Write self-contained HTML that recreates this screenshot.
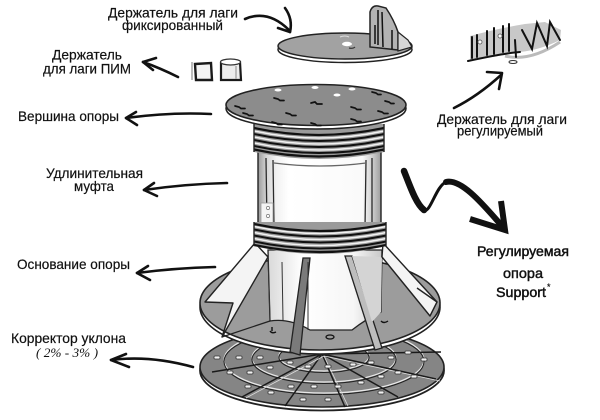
<!DOCTYPE html>
<html><head><meta charset="utf-8"><style>
html,body{margin:0;padding:0;background:#fff;}
svg{display:block;}
text{font-family:"Liberation Sans","DejaVu Sans",sans-serif;font-size:14px;fill:#111;stroke:#111;stroke-width:0.2px;}
.it{font-family:"Liberation Serif",serif;font-style:italic;font-size:13px;stroke-width:0;}
.bd{stroke:#111;stroke-width:0.45px;}
</style></head><body>
<svg width="600" height="420" viewBox="0 0 600 420" xmlns="http://www.w3.org/2000/svg">
<defs>
<linearGradient id="cyl" x1="0" x2="1" y1="0" y2="0">
 <stop offset="0" stop-color="#9a9a9a"/>
 <stop offset="0.07" stop-color="#d6d6d6"/>
 <stop offset="0.15" stop-color="#f2f2f2"/>
 <stop offset="0.25" stop-color="#fff"/>
 <stop offset="0.85" stop-color="#fafafa"/>
 <stop offset="0.93" stop-color="#cfcfcf"/>
 <stop offset="1" stop-color="#9c9c9c"/>
</linearGradient>
<linearGradient id="base" x1="0" x2="1" y1="0" y2="0">
 <stop offset="0" stop-color="#d9d9d9"/>
 <stop offset="0.3" stop-color="#fff"/>
 <stop offset="0.75" stop-color="#f6f6f6"/>
 <stop offset="1" stop-color="#c8c8c8"/>
</linearGradient>
</defs>
<rect width="600" height="420" fill="#fff"/>

<!-- ===== Labels ===== -->
<text x="108" y="17.5" textLength="130" lengthAdjust="spacingAndGlyphs">Держатель для лаги</text>
<text x="122" y="30" textLength="101" lengthAdjust="spacingAndGlyphs">фиксированный</text>
<text x="52" y="59.5" textLength="70" lengthAdjust="spacingAndGlyphs">Держатель</text>
<text x="43" y="73.5" textLength="88" lengthAdjust="spacingAndGlyphs">для лаги ПИМ</text>
<text x="18" y="121" textLength="101" lengthAdjust="spacingAndGlyphs">Вершина опоры</text>
<text x="46" y="178" textLength="97" lengthAdjust="spacingAndGlyphs">Удлинительная</text>
<text x="74" y="191" textLength="40" lengthAdjust="spacingAndGlyphs">муфта</text>
<text x="17" y="269" textLength="113" lengthAdjust="spacingAndGlyphs">Основание опоры</text>
<text x="11" y="343" textLength="115" lengthAdjust="spacingAndGlyphs">Корректор уклона</text>
<text class="it" x="36" y="357" textLength="62" lengthAdjust="spacingAndGlyphs">( 2% - 3% )</text>
<text x="437" y="124" textLength="130" lengthAdjust="spacingAndGlyphs">Держатель для лаги</text>
<text x="457" y="135.5" textLength="86" lengthAdjust="spacingAndGlyphs">регулируемый</text>
<text class="bd" x="477" y="256" textLength="92" lengthAdjust="spacingAndGlyphs">Регулируемая</text>
<text class="bd" x="503" y="278" textLength="40" lengthAdjust="spacingAndGlyphs">опора</text>
<text class="bd" x="496" y="297" textLength="50" lengthAdjust="spacingAndGlyphs">Support</text>
<text x="547" y="290" style="font-size:9px">*</text>

<!-- ===== Arrows ===== -->
<g fill="none" stroke="#111" stroke-width="2.6" stroke-linecap="round" stroke-linejoin="round">
 <path d="M245,19 Q268,9 289,30"/>
 <path d="M285,8 Q293,19 290,32"/>
 <path d="M278,28 L290,32"/>
 <path d="M178,77 Q160,68 143,62"/>
 <path d="M156,58 L143,62 L153,70"/>
 <path d="M211,114 Q170,112 126,118"/>
 <path d="M136,112 L126,118 L137,125"/>
 <path d="M227,183 Q185,184 144,190"/>
 <path d="M154,183 L144,190 L157,196"/>
 <path d="M215,267 Q175,268 137,273"/>
 <path d="M148,266 L137,273 L150,280"/>
 <path d="M193,367 Q150,355 111,360"/>
 <path d="M126,354 L111,360 L129,367"/>
 <path d="M454,108 Q478,96 501,75"/>
 <path d="M487,72 L502,73 L499,89"/>
</g>
<g fill="none" stroke="#111" stroke-linecap="round">
 <path d="M404,171 C410,186 416,204 424,210" stroke-width="6.5"/>
 <path d="M424,210 C430,214 436,186 446,182" stroke-width="3"/>
 <path d="M446,182 C462,178 486,208 502,226" stroke-width="6"/>
 <path d="M470,219 L505,230 L501,201" stroke-width="6" stroke-linejoin="miter" stroke-linecap="butt"/>
</g>

<!-- ===== Fixed joist holder (top) ===== -->
<ellipse cx="345" cy="49.5" rx="67" ry="13" fill="#fff" stroke="#222" stroke-width="1.5"/>
<ellipse cx="345" cy="46" rx="67" ry="13" fill="#a2a2a2" stroke="#222" stroke-width="1.5"/>
<ellipse cx="347" cy="44" rx="5" ry="2.2" fill="#fff"/>
<path d="M340,37 q5,-2 9,0" stroke="#ddd" fill="none"/>
<path d="M349,48 q4,1 6,-1" stroke="#333" fill="none" stroke-width="1.2"/>
<path d="M370,47 L370,12 Q372,5 378,6 L386,8 Q394,20 398,32 L398,50 Z" fill="#b3b3b3" stroke="#222" stroke-width="1.5"/>
<path d="M378,10 L378,45 M382,12 L383,47 M375,25 L375,44 M392,30 L392,49" stroke="#111" stroke-width="1.5" fill="none"/>
<path d="M398,32 L408,40 L412,47 L398,51 Z" fill="#d6d6d6" stroke="#222" stroke-width="1.2"/>

<!-- ===== PIM holder ===== -->
<path d="M195,64 L211,63 L212,80 L196,80 Z" fill="#f3f3f3" stroke="#1a1a1a" stroke-width="2.4"/>
<path d="M192,62 L192,80" stroke="#bbb" stroke-width="2"/>
<path d="M221,63 L240,62 L241,80 L221,80 Z" fill="#ececec" stroke="#1a1a1a" stroke-width="2.2"/>
<ellipse cx="230.5" cy="62" rx="10" ry="3" fill="#fff" stroke="#333" stroke-width="1.2"/>
<path d="M236,66 L236,79" stroke="#aaa" stroke-width="1.5"/>

<!-- ===== Adjustable joist holder (right) ===== -->
<path d="M470,36 Q500,28 525,24 L545,22 L561,30 L560,40 Q540,50 520,52 L505,55 Q485,58 470,60 Z" fill="#c8c8c8"/>
<path d="M505,56 Q530,62 560,42" fill="none" stroke="#bbb" stroke-width="3"/>
<g stroke="#111" stroke-width="2" fill="none" stroke-linecap="round">
 <path d="M472,37 L472,58 M477,35 L477,57 M487,31 L487,55 M494,28 L494,54 M503,26 L503,52 M509,24 L509,51"/>
 <path d="M468,61 Q505,53 520,52"/>
 <path d="M522,30 L532,49 L537,23 L547,46 L550,22 L560,40"/>
 <path d="M515,40 L516,57"/>
</g>
<ellipse cx="513" cy="62" rx="4" ry="1.5" fill="none" stroke="#333" stroke-width="1"/>
<circle cx="480" cy="42" r="2" fill="#fff" stroke="#555" stroke-width="0.8"/>
<circle cx="500" cy="36" r="2" fill="#fff" stroke="#555" stroke-width="0.8"/>

<!-- ===== Slope corrector (bottom disc) ===== -->
<ellipse cx="322" cy="370.5" rx="122" ry="40" fill="#fff" stroke="#222" stroke-width="1.8"/>
<ellipse cx="322" cy="367" rx="122" ry="40" fill="#858585" stroke="#222" stroke-width="1.6"/>
<g fill="none">
 <ellipse cx="324" cy="360" rx="100" ry="33" stroke="#e8e8e8" stroke-width="1.3"/>
 <ellipse cx="324" cy="361.5" rx="100" ry="33" stroke="#222" stroke-width="1.1"/>
 <ellipse cx="324" cy="358" rx="72" ry="24" stroke="#e8e8e8" stroke-width="1.2"/>
 <ellipse cx="324" cy="359.5" rx="72" ry="24" stroke="#222" stroke-width="1.1"/>
 <ellipse cx="324" cy="356" rx="45" ry="15" stroke="#e8e8e8" stroke-width="1.2"/>
 <ellipse cx="324" cy="357.5" rx="45" ry="15" stroke="#222" stroke-width="1.1"/>
 <g stroke="#1a1a1a" stroke-width="1.5">
  <path d="M322,354 L212,372 M322,354 L242,397 M322,354 L285,406 M322,354 L345,407 M322,354 L398,397 M322,354 L436,379 M322,354 L441,352"/>
 </g>
 <g stroke="#ddd" stroke-width="0.8">
  <path d="M324,356 L246,398 M324,356 L348,406 M324,356 L440,381"/>
 </g>
</g>
<g fill="#f2f2f2" stroke="#333" stroke-width="0.8">
 <rect x="214" y="356" width="6" height="3" rx="1"/><rect x="236" y="356" width="6" height="3" rx="1"/>
 <rect x="257" y="356" width="6" height="3" rx="1"/><rect x="227" y="371" width="6" height="3" rx="1"/>
 <rect x="247" y="371" width="6" height="3" rx="1"/><rect x="267" y="366" width="6" height="3" rx="1"/>
 <rect x="287" y="361" width="6" height="3" rx="1"/><rect x="305" y="365" width="6" height="3" rx="1"/>
 <rect x="325" y="365" width="6" height="3" rx="1"/><rect x="350" y="363" width="6" height="3" rx="1"/>
 <rect x="368" y="361" width="6" height="3" rx="1"/><rect x="388" y="356" width="6" height="3" rx="1"/>
 <rect x="405" y="351" width="6" height="3" rx="1"/><rect x="421" y="358" width="6" height="3" rx="1"/>
 <rect x="395" y="371" width="6" height="3" rx="1"/><rect x="378" y="375" width="6" height="3" rx="1"/>
 <rect x="358" y="381" width="6" height="3" rx="1"/><rect x="335" y="385" width="6" height="3" rx="1"/>
 <rect x="311" y="385" width="6" height="3" rx="1"/><rect x="288" y="385" width="6" height="3" rx="1"/>
 <rect x="268" y="391" width="6" height="3" rx="1"/><rect x="325" y="398" width="6" height="3" rx="1"/>
 <rect x="378" y="391" width="6" height="3" rx="1"/><rect x="411" y="375" width="6" height="3" rx="1"/>
 <rect x="245" y="385" width="6" height="3" rx="1"/><rect x="300" y="398" width="6" height="3" rx="1"/>
</g>

<!-- ===== Base disc ===== -->
<ellipse cx="320" cy="307" rx="120" ry="47" fill="#fff" stroke="#222" stroke-width="1.6"/>
<ellipse cx="320" cy="303" rx="120" ry="47" fill="#9c9c9c" stroke="#222" stroke-width="1.6"/>
<path d="M270,331 q2,3 6,1 M272,327 l0,4" stroke="#111" stroke-width="1.4" fill="none"/>
<ellipse cx="330" cy="337" rx="4" ry="2" fill="none" stroke="#111" stroke-width="1.3"/>
<path d="M381,321 q3,3 7,0" stroke="#111" stroke-width="1.4" fill="none"/>

<!-- ===== Base cone ===== -->
<path d="M255,243 L205,302 L233,303 L222,337 L268,257 Z" fill="#f4f4f4" stroke="#222" stroke-width="1.4" stroke-linejoin="round"/>
<path d="M268,250 L382,250 L381,312 Q366,319 352,330 L310,330 Q290,318 270,321 Z" fill="url(#base)" stroke="#222" stroke-width="1.3"/>
<path d="M270,321 L222,337" stroke="#222" stroke-width="1.3"/>
<path d="M303,258 L310,258 L300,355 L290,352 Z" fill="#7a7a7a" stroke="#222" stroke-width="1.3"/>
<path d="M345,256 L352,256 L382,348 L375,350 Z" fill="#bdbdbd" stroke="#222" stroke-width="1.3"/>
<path d="M352,256 L382,257 L381,312 L372,322 Z" fill="#d4d4d4"/>
<path d="M383,243 L437,302 L430,316 L382,257 Z" fill="#f4f4f4" stroke="#222" stroke-width="1.4" stroke-linejoin="round"/>
<path d="M417,288 L437,302" stroke="#222" stroke-width="1.4"/>
<path d="M268,257 L270,320 M308,262 L308,330 M282,262 L283,320" stroke="#333" stroke-width="1" fill="none"/>

<!-- ===== Extension sleeve (cylinder) ===== -->
<path d="M258,148 L381,148 L381,226 Q320,238 258,226 Z" fill="url(#cyl)" stroke="#222" stroke-width="1.4"/>
<g stroke="#2a2a2a" stroke-width="1.3" fill="none">
 <path d="M266,158 L267,226 M273,160 L274,228 M366,160 L365,228 M372,158 L372,226"/>
 <path d="M274,163 Q320,169 366,163" stroke="#666"/>
</g>
<rect x="261" y="203" width="12" height="20" fill="#f4f4f4" stroke="#999" stroke-width="0.8"/>
<circle cx="268" cy="208" r="1.6" fill="#fff" stroke="#777" stroke-width="0.7"/>
<circle cx="268" cy="216" r="1.6" fill="#fff" stroke="#777" stroke-width="0.7"/>

<!-- ===== Lower thread ===== -->
<path d="M254,222 L386,222 L386,246 Q320,262 254,246 Z" fill="#9a9a9a"/>
<g fill="none">
 <path d="M254,224 Q320,238 386,224" stroke="#111" stroke-width="2.2"/>
 <path d="M254,226.5 Q320,240.5 386,226.5" stroke="#f2f2f2" stroke-width="1.5"/>
 <path d="M254,229.5 Q320,243.5 386,229.5" stroke="#111" stroke-width="2"/>
 <path d="M254,232.5 Q320,246.5 386,232.5" stroke="#f2f2f2" stroke-width="1.5"/>
 <path d="M254,235.5 Q320,249.5 386,235.5" stroke="#111" stroke-width="2"/>
 <path d="M254,238.5 Q320,252.5 386,238.5" stroke="#f2f2f2" stroke-width="1.5"/>
 <path d="M254,241.5 Q320,255.5 386,241.5" stroke="#111" stroke-width="2"/>
 <path d="M254,245 Q320,259 386,245" stroke="#111" stroke-width="2.2"/>
 <path d="M254,222 L254,246 M386,222 L386,246" stroke="#222" stroke-width="1.4"/>
</g>

<!-- ===== Upper thread ===== -->
<path d="M254,124 L384,124 L384,152 Q319,166 254,152 Z" fill="#9a9a9a"/>
<g fill="none">
 <path d="M254,128 Q319,142 384,128" stroke="#111" stroke-width="2.2"/>
 <path d="M254,131 Q319,145 384,131" stroke="#f2f2f2" stroke-width="1.5"/>
 <path d="M254,134 Q319,148 384,134" stroke="#111" stroke-width="2"/>
 <path d="M254,137 Q319,151 384,137" stroke="#f2f2f2" stroke-width="1.5"/>
 <path d="M254,140 Q319,154 384,140" stroke="#111" stroke-width="2"/>
 <path d="M254,143 Q319,157 384,143" stroke="#f2f2f2" stroke-width="1.5"/>
 <path d="M254,146 Q319,160 384,146" stroke="#111" stroke-width="2"/>
 <path d="M254,149.5 Q319,163.5 384,149.5" stroke="#111" stroke-width="2.2"/>
 <path d="M254,124 L254,152 M384,124 L384,152" stroke="#222" stroke-width="1.4"/>
</g>

<!-- ===== Top disc ===== -->
<ellipse cx="316" cy="108.5" rx="90" ry="20.5" fill="#fff" stroke="#222" stroke-width="1.5"/>
<ellipse cx="316" cy="105" rx="90" ry="20.5" fill="#8c8c8c" stroke="#222" stroke-width="1.6"/>
<g stroke="#111" stroke-width="1.7" fill="none" stroke-linecap="round">
 <path d="M235,106 l4,1 l2,1.5 l4,0"/>
 <path d="M274,98 l4,1 l2,1.5 l4,0"/>
 <path d="M311,103 l4,-1 l2,2 l5,0"/>
 <path d="M351,107 l4,1 l2,1.5 l4,0"/>
 <path d="M378,111 l4,1 l2,1.5 l4,0"/>
 <path d="M243,113 l4,1 l2,1.5 l4,0"/>
 <path d="M286,113 l4,1 l2,1.5 l4,0"/>
 <path d="M272,122 l4,1 l2,1.5 l4,0"/>
 <path d="M311,123 l4,1 l2,1.5 l4,0"/>
 <path d="M351,119 l4,1 l2,1.5 l4,0"/>
 <path d="M385,101 l4,1 l2,1.5 l3,0"/>
 <path d="M372,92 l4,1 l2,1.5 l3,0"/>
</g>
<g fill="#fff">
 <ellipse cx="278" cy="90" rx="3.5" ry="1.5"/>
 <ellipse cx="315" cy="87.5" rx="3.5" ry="1.5"/>
 <ellipse cx="337" cy="95" rx="3.5" ry="1.5"/>
 <ellipse cx="352" cy="89" rx="3.5" ry="1.5"/>
</g>
</svg>
</body></html>
